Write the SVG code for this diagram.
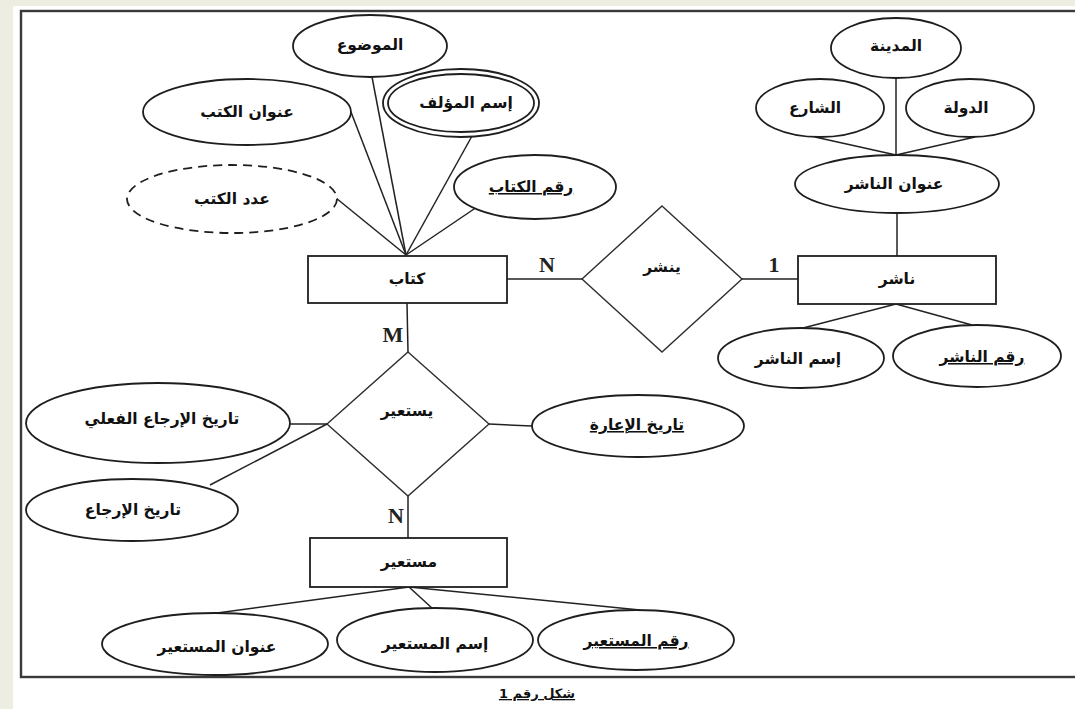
<svg xmlns="http://www.w3.org/2000/svg" width="1075" height="709" viewBox="0 0 1075 709">
<style>
.bg{fill:#ffffff}
.strip{fill:#eeede2}
.frame{fill:#ffffff;stroke:#3a3a3a;stroke-width:2.4}
.ent{fill:#ffffff;stroke:#1e1e1e;stroke-width:1.8}
.attr{fill:#ffffff;stroke:#1e1e1e;stroke-width:1.8}
.dash{stroke-dasharray:9 6}
.rel{fill:#ffffff;stroke:#2e2e2e;stroke-width:1.4}
.conn line{stroke:#222222;stroke-width:1.5}
.t{font-family:"DejaVu Sans","Noto Sans",sans-serif;font-weight:bold;font-size:15.5px;text-anchor:middle;fill:#111111;direction:rtl}
.u{text-decoration:underline}
.card{font-family:"Liberation Serif",serif;font-weight:bold;font-size:22px;text-anchor:middle;fill:#222222}
.cap{font-size:13px}
</style>

<rect class="bg" x="0" y="0" width="1075" height="709"/>
<rect class="strip" x="0" y="0" width="13" height="709"/>
<rect class="strip" x="0" y="0" width="1075" height="6"/>
<rect class="frame" x="21" y="11" width="1080" height="666"/>

<g id="connectors" class="conn">
  <line x1="406" y1="255" x2="372" y2="77"/>
  <line x1="406" y1="255" x2="351" y2="112"/>
  <line x1="406" y1="255" x2="336" y2="198"/>
  <line x1="406" y1="255" x2="472" y2="136"/>
  <line x1="406" y1="255" x2="477" y2="207"/>
  <line x1="507" y1="279" x2="582" y2="279"/>
  <line x1="742" y1="279" x2="798" y2="279"/>
  <line x1="897" y1="213" x2="897" y2="256"/>
  <line x1="896" y1="78" x2="896" y2="155"/>
  <line x1="815" y1="137" x2="896" y2="155"/>
  <line x1="975" y1="137" x2="896" y2="155"/>
  <line x1="896" y1="304" x2="803" y2="328"/>
  <line x1="896" y1="304" x2="972" y2="325"/>
  <line x1="407" y1="303" x2="408" y2="352"/>
  <line x1="327" y1="424" x2="290" y2="424"/>
  <line x1="327" y1="424" x2="210" y2="485"/>
  <line x1="489" y1="424" x2="532" y2="426"/>
  <line x1="408" y1="496" x2="408" y2="538"/>
  <line x1="409" y1="587" x2="217" y2="613"/>
  <line x1="409" y1="587" x2="433" y2="609"/>
  <line x1="409" y1="587" x2="640" y2="610"/>
</g>

<g id="book">
  <rect class="ent" x="308" y="256" width="199" height="47"/>
  <text class="t" x="407" y="284">كتاب</text>
</g>
<g id="publisher">
  <rect class="ent" x="798" y="256" width="198" height="48"/>
  <text class="t" x="897" y="284">ناشر</text>
</g>
<g id="borrower">
  <rect class="ent" x="310" y="538" width="197" height="49"/>
  <text class="t" x="409" y="567">مستعير</text>
</g>

<g id="publishes">
  <polygon class="rel" points="662,206 742,279 662,352 582,279"/>
  <text class="t" x="662" y="272">ينشر</text>
</g>
<g id="borrows">
  <polygon class="rel" points="408,352 489,424 408,496 327,424"/>
  <text class="t" x="407" y="416">يستعير</text>
</g>

<g id="subject">
  <ellipse class="attr" cx="370" cy="46" rx="77" ry="31"/>
  <text class="t" x="370" y="50">الموضوع</text>
</g>
<g id="book-title">
  <ellipse class="attr" cx="247" cy="112" rx="104" ry="33"/>
  <text class="t" x="247" y="117">عنوان الكتب</text>
</g>
<g id="author-name">
  <ellipse class="attr" cx="461" cy="103" rx="78" ry="34"/>
  <ellipse class="attr" cx="461" cy="103" rx="73" ry="29"/>
  <text class="t" x="466" y="108">إسم المؤلف</text>
</g>
<g id="book-count">
  <ellipse class="attr dash" cx="232" cy="199" rx="105" ry="34"/>
  <text class="t" x="232" y="204">عدد الكتب</text>
</g>
<g id="book-number">
  <ellipse class="attr" cx="535" cy="187" rx="81" ry="32"/>
  <text class="t u" x="531" y="192">رقم الكتاب</text>
</g>

<g id="city">
  <ellipse class="attr" cx="896" cy="48" rx="65" ry="30"/>
  <text class="t" x="896" y="51">المدينة</text>
</g>
<g id="street">
  <ellipse class="attr" cx="820" cy="108" rx="64" ry="29"/>
  <text class="t" x="815" y="113">الشارع</text>
</g>
<g id="country">
  <ellipse class="attr" cx="970" cy="108" rx="64" ry="29"/>
  <text class="t" x="966" y="113">الدولة</text>
</g>
<g id="publisher-address">
  <ellipse class="attr" cx="897" cy="184" rx="102" ry="29"/>
  <text class="t" x="894" y="189">عنوان الناشر</text>
</g>
<g id="publisher-name">
  <ellipse class="attr" cx="801" cy="358" rx="83" ry="30"/>
  <text class="t" x="798" y="364">إسم الناشر</text>
</g>
<g id="publisher-number">
  <ellipse class="attr" cx="977" cy="356" rx="84" ry="31"/>
  <text class="t u" x="982" y="362">رقم الناشر</text>
</g>

<g id="actual-return-date">
  <ellipse class="attr" cx="158" cy="423" rx="132" ry="40"/>
  <text class="t" x="162" y="424">تاريخ الإرجاع الفعلي</text>
</g>
<g id="return-date">
  <ellipse class="attr" cx="132" cy="510" rx="106" ry="31"/>
  <text class="t" x="133" y="515">تاريخ الإرجاع</text>
</g>
<g id="loan-date">
  <ellipse class="attr" cx="638" cy="426" rx="106" ry="31"/>
  <text class="t u" x="637" y="430">تاريخ الإعارة</text>
</g>

<g id="borrower-address">
  <ellipse class="attr" cx="215" cy="644" rx="113" ry="31"/>
  <text class="t" x="217" y="652">عنوان المستعير</text>
</g>
<g id="borrower-name">
  <ellipse class="attr" cx="435" cy="640" rx="98" ry="32"/>
  <text class="t" x="435" y="649">إسم المستعير</text>
</g>
<g id="borrower-number">
  <ellipse class="attr" cx="636" cy="640" rx="98" ry="30"/>
  <text class="t u" x="636" y="646">رقم المستعير</text>
</g>

<g id="cardinalities">
  <text class="card" x="547" y="272">N</text>
  <text class="card" x="774" y="272">1</text>
  <text class="card" x="393" y="342">M</text>
  <text class="card" x="396" y="523">N</text>
</g>

<g id="caption">
  <text class="t u cap" x="537" y="698">شكل رقم 1</text>
</g>
</svg>
